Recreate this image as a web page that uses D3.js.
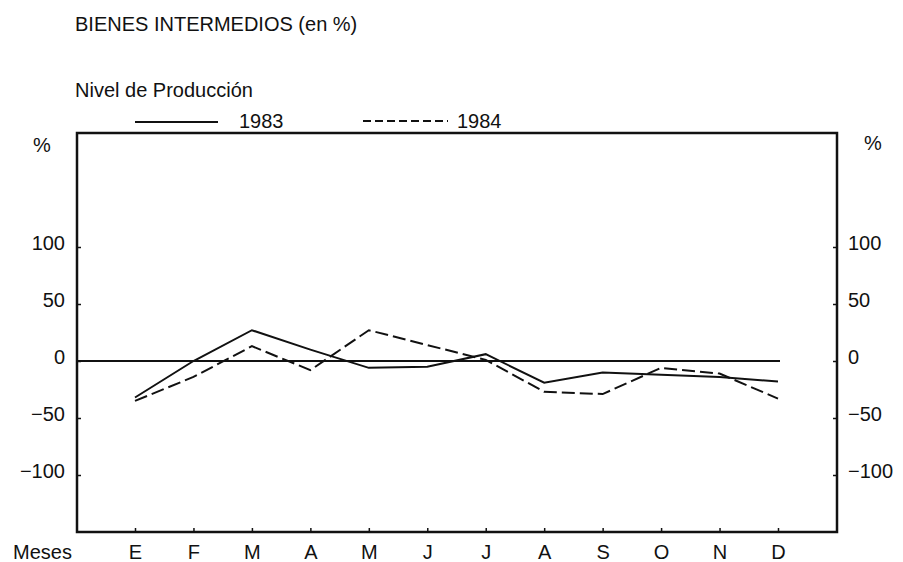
<!DOCTYPE html>
<html>
<head>
<meta charset="utf-8">
<script src="https://cdn.jsdelivr.net/npm/d3@7"></script>
<style>
	body { margin: 0; background: #fff; }
	svg text { font-family: "Liberation Sans", Arial, sans-serif; fill: #111; }
</style>
</head>
<body>
<div id="grafico"></div>
<script>
// Datos (variacion en %)
var meses = ["E", "F", "M", "A", "M", "J", "J", "A", "S", "O", "N", "D"];
var serie1983 = [-32, 0, 27, 10, -6, -5, 6, -19, -10, -12, -14, -18];
var serie1984 = [-35, -14, 13, -8, 27, 14, 1, -27, -29, -6, -11, -33];
var ticksY = [-100, -50, 0, 50, 100];
var anios = ["1983", "1984"];

// ojo: "top" es window.top, por eso otros nombres
var ancho = 903,
	alto = 562,
	mIzq = 77, mDer = 837,
	mSup = 133, mInf = 532;

var svg = d3.select("#grafico")
	.append("svg")
	.attr("width", ancho)
	.attr("height", alto);

// escalas
var x = d3.scaleLinear()
	.domain([0, meses.length - 1])
	.range([135, 778]);

var y = d3.scaleLinear()
	.domain([-150, 200])
	.range([mInf, mSup]);

// titulos
svg.append("text")
	.attr("x", 75).attr("y", 31)
	.style("font-size", "20px")
	.text("BIENES INTERMEDIOS (en %)");

svg.append("text")
	.attr("x", 75).attr("y", 97)
	.style("font-size", "20px")
	.text("Nivel de Producción");

// leyenda
var leyenda = [
	{ x1: 135, x2: 218, y: 122, dash: null, tx: 239 },
	{ x1: 363, x2: 448, y: 121, dash: "8,4", tx: 457 }
];
leyenda.forEach(function (l, i) {
	svg.append("line")
		.attr("x1", l.x1).attr("x2", l.x2)
		.attr("y1", l.y).attr("y2", l.y)
		.attr("stroke", "#111")
		.attr("stroke-width", 2)
		.attr("stroke-dasharray", l.dash);
	svg.append("text")
		.attr("x", l.tx).attr("y", 128)
		.style("font-size", "20px")
		.text(anios[i]);
});

// marco
svg.append("rect")
	.attr("x", mIzq).attr("y", mSup)
	.attr("width", mDer - mIzq)
	.attr("height", mInf - mSup)
	.attr("fill", "none")
	.attr("stroke", "#111")
	.attr("stroke-width", 2.5);

// "%" a ambos lados
svg.append("text").attr("x", 33).attr("y", 152).style("font-size", "20px").text("%");
svg.append("text").attr("x", 864).attr("y", 150).style("font-size", "20px").text("%");

// ejes
var ejeIzq = svg.append("g")
	.attr("transform", "translate(" + mIzq + ",0)")
	.call(d3.axisLeft(y).tickValues(ticksY).tickFormat(d3.format("d"))
		.tickSize(-4).tickPadding(12));

var ejeDer = svg.append("g")
	.attr("transform", "translate(" + mDer + ",0)")
	.call(d3.axisRight(y).tickValues(ticksY).tickFormat(d3.format("d"))
		.tickSize(-4).tickPadding(11));

var ejeX = svg.append("g")
	.attr("transform", "translate(0," + mInf + ")")
	.call(d3.axisBottom(x).tickValues(d3.range(meses.length))
		.tickFormat(function (i) { return meses[i]; })
		.tickSize(-4).tickPadding(13));

[ejeIzq, ejeDer, ejeX].forEach(function (g) {
	g.select(".domain").remove();
	g.selectAll("line").attr("stroke", "#111").attr("stroke-width", 1.5);
	g.selectAll("text")
		.style("font-family", "'Liberation Sans', Arial, sans-serif")
		.style("font-size", "20px")
		.attr("fill", "#111");
});
ejeIzq.selectAll("text").attr("dy", "0.12em");
ejeDer.selectAll("text").attr("dy", "0.12em");

svg.append("text")
	.attr("x", 13).attr("y", 559)
	.style("font-size", "20px")
	.text("Meses");

// linea del cero
svg.append("line")
	.attr("x1", mIzq).attr("x2", x(meses.length - 1) + 2)
	.attr("y1", y(0)).attr("y2", y(0))
	.attr("stroke", "#111")
	.attr("stroke-width", 1.8);

// series
var linea = d3.line()
	.x(function (d, i) { return x(i); })
	.y(function (d) { return y(d); });

svg.append("path")
	.datum(serie1983)
	.attr("d", linea)
	.attr("fill", "none")
	.attr("stroke", "#111")
	.attr("stroke-width", 2);

svg.append("path")
	.datum(serie1984)
	.attr("d", linea)
	.attr("fill", "none")
	.attr("stroke", "#111")
	.attr("stroke-width", 2)
	.attr("stroke-dasharray", "13,5");
</script>
</body>
</html>
